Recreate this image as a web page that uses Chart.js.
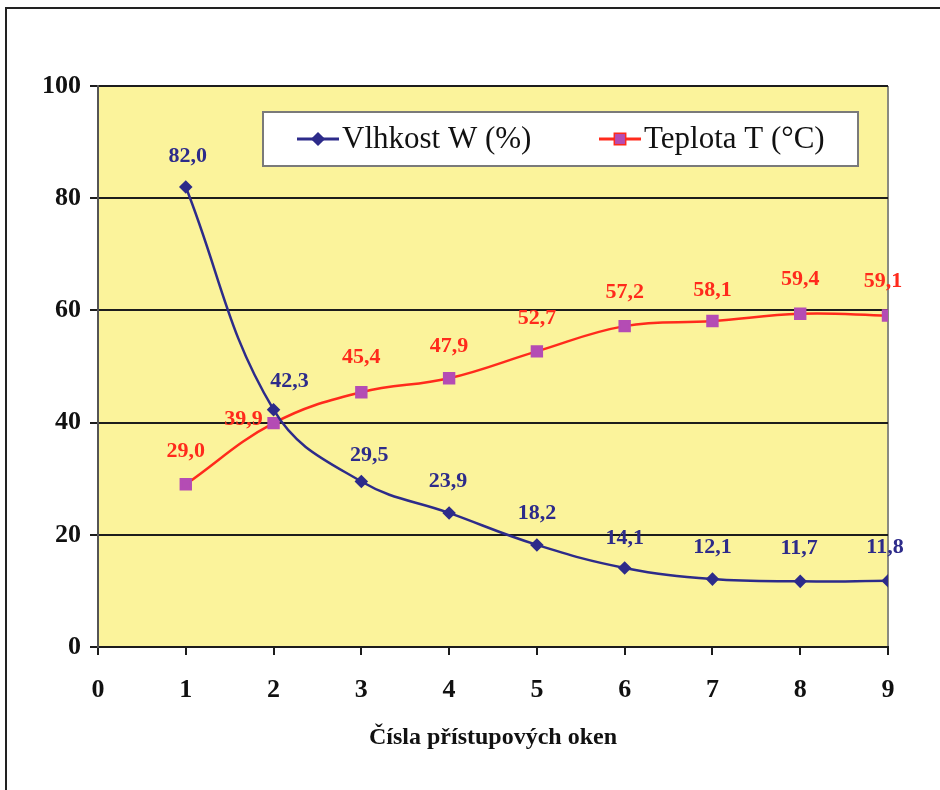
<!DOCTYPE html>
<html>
<head>
<meta charset="utf-8">
<script src="https://cdn.jsdelivr.net/npm/chart.js@4/dist/chart.umd.min.js"></script>
<style>
  html, body { margin: 0; padding: 0; background: #ffffff; }
  #wrap { position: relative; width: 940px; height: 790px; }
</style>
</head>
<body>
<div id="wrap"><canvas id="c" width="940" height="790"></canvas></div>
<script>
// Window numbers along the drying channel
const windows = [1, 2, 3, 4, 5, 6, 7, 8, 9];
// Moisture content W (%)
const moisture = [82.0, 42.3, 29.5, 23.9, 18.2, 14.1, 12.1, 11.7, 11.8];
// Temperature T (°C)
const temperature = [29.0, 39.9, 45.4, 47.9, 52.7, 57.2, 58.1, 59.4, 59.1];
const seriesNames = ['Vlhkost W (%)', 'Teplota T (°C)'];
const axisTitle = 'Čísla přístupových oken';
const xTicks = [0, 1, 2, 3, 4, 5, 6, 7, 8, 9];
const yTicks = [0, 20, 40, 60, 80, 100];

// Label offsets (px) from each point, so labels avoid the lines
const moistureLabelOffsets = [[2, -31], [16, -28], [8, -26], [-1, -32], [0, -32], [0, -30], [0, -32], [-1, -33], [-3, -33]];
const temperatureLabelOffsets = [[0, -33], [-30, -4], [0, -35], [0, -32], [0, -33], [0, -34], [0, -31], [0, -34], [-5, -34]];

const SERIF = '"Liberation Serif", "Times New Roman", serif';
const NAVY = '#2d2b8a';
const RED = '#ff2a1c';
const MAGENTA = '#b44cb4';

const toPoints = (ys) => windows.map((x, i) => ({ x: x, y: ys[i] }));
const fmt = (v) => v.toFixed(1).replace('.', ',');

const plotDecor = {
  id: 'plotDecor',
  beforeDraw(chart) {
    const { ctx, chartArea: a } = chart;
    ctx.save();
    ctx.fillStyle = '#ffffff';
    ctx.fillRect(0, 0, chart.width, chart.height);
    ctx.fillStyle = '#fbf39b';
    ctx.fillRect(a.left, a.top, a.right - a.left, a.bottom - a.top);
    // right edge of the plot area
    ctx.strokeStyle = '#8a8a80';
    ctx.lineWidth = 2;
    ctx.beginPath();
    ctx.moveTo(a.right, a.top);
    ctx.lineTo(a.right, a.bottom);
    ctx.stroke();
    // page frame
    ctx.strokeStyle = '#222222';
    ctx.lineWidth = 2;
    ctx.beginPath();
    ctx.moveTo(6, chart.height);
    ctx.lineTo(6, 8);
    ctx.lineTo(chart.width, 8);
    ctx.stroke();
    ctx.restore();
  },
  afterDatasetsDraw(chart) {
    const { ctx, chartArea: a } = chart;
    ctx.save();
    // value labels
    ctx.font = 'bold 22px ' + SERIF;
    ctx.textAlign = 'center';
    ctx.textBaseline = 'middle';
    const offs = [moistureLabelOffsets, temperatureLabelOffsets];
    const cols = [NAVY, RED];
    chart.data.datasets.forEach((ds, di) => {
      const meta = chart.getDatasetMeta(di);
      ctx.fillStyle = cols[di];
      meta.data.forEach((pt, i) => {
        const o = offs[di][i];
        ctx.fillText(fmt(ds.data[i].y), pt.x + o[0], pt.y + o[1]);
      });
    });

    // legend box inside the plot
    const bx = a.left + 165, by = a.top + 26, bw = 595, bh = 54;
    ctx.fillStyle = '#ffffff';
    ctx.fillRect(bx, by, bw, bh);
    ctx.strokeStyle = '#7a7a7a';
    ctx.lineWidth = 2;
    ctx.strokeRect(bx, by, bw, bh);
    const cy = by + bh / 2;
    const items = [
      { x: bx + 34, ds: chart.data.datasets[0] },
      { x: bx + 336, ds: chart.data.datasets[1] }
    ];
    ctx.font = '31px ' + SERIF;
    ctx.textAlign = 'left';
    ctx.textBaseline = 'middle';
    items.forEach((it) => {
      const ds = it.ds;
      ctx.strokeStyle = ds.borderColor;
      ctx.lineWidth = 3;
      ctx.beginPath();
      ctx.moveTo(it.x, cy);
      ctx.lineTo(it.x + 42, cy);
      ctx.stroke();
      Chart.helpers.drawPoint(ctx, {
        pointStyle: ds.pointStyle,
        radius: ds.pointRadius,
        rotation: 0,
        borderWidth: 1
      }, it.x + 21, cy);
      ctx.fillStyle = ds.pointBackgroundColor;
      ctx.strokeStyle = ds.pointBorderColor;
      ctx.fill();
      ctx.fillStyle = '#111111';
      ctx.fillText(ds.label, it.x + 45, cy + 1);
    });
    ctx.restore();
  }
};

new Chart(document.getElementById('c'), {
  type: 'line',
  data: {
    datasets: [
      {
        label: seriesNames[0],
        data: toPoints(moisture),
        borderColor: NAVY,
        borderWidth: 2.5,
        tension: 0.4,
        pointStyle: 'rectRot',
        pointRadius: 5,
        pointBackgroundColor: NAVY,
        pointBorderColor: NAVY,
        fill: false
      },
      {
        label: seriesNames[1],
        data: toPoints(temperature),
        borderColor: RED,
        borderWidth: 2.5,
        tension: 0.4,
        pointStyle: 'rect',
        pointRadius: 7,
        pointBackgroundColor: MAGENTA,
        pointBorderColor: MAGENTA,
        fill: false
      }
    ]
  },
  options: {
    responsive: false,
    animation: false,
    layout: { padding: { top: 86, right: 52, left: 0, bottom: 0 } },
    plugins: {
      legend: { display: false },
      tooltip: { enabled: false }
    },
    scales: {
      x: {
        type: 'linear',
        min: 0,
        max: 9,
        afterFit: (s) => { s.height = 143; },
        afterBuildTicks: (s) => { s.ticks = xTicks.map((v) => ({ value: v })); },
        border: { display: true, color: '#1c1c1c', width: 2 },
        grid: { drawOnChartArea: false, drawTicks: true, tickLength: 8, color: '#1c1c1c', lineWidth: 2 },
        ticks: {
          padding: 20,
          color: '#111111',
          font: { family: SERIF, size: 26, weight: 'bold' }
        },
        title: {
          display: true,
          text: axisTitle,
          color: '#111111',
          font: { family: SERIF, size: 24, weight: 'bold' },
          padding: { top: 10, bottom: 38 }
        }
      },
      y: {
        min: 0,
        max: 100,
        afterFit: (s) => { s.width = 98; },
        afterBuildTicks: (s) => { s.ticks = yTicks.map((v) => ({ value: v })); },
        border: { display: true, color: '#555555', width: 2 },
        grid: { color: '#1c1c1c', lineWidth: 2, tickLength: 8, drawTicks: true },
        ticks: {
          padding: 9,
          color: '#111111',
          font: { family: SERIF, size: 26, weight: 'bold' }
        }
      }
    }
  },
  plugins: [plotDecor]
});
</script>
</body>
</html>
